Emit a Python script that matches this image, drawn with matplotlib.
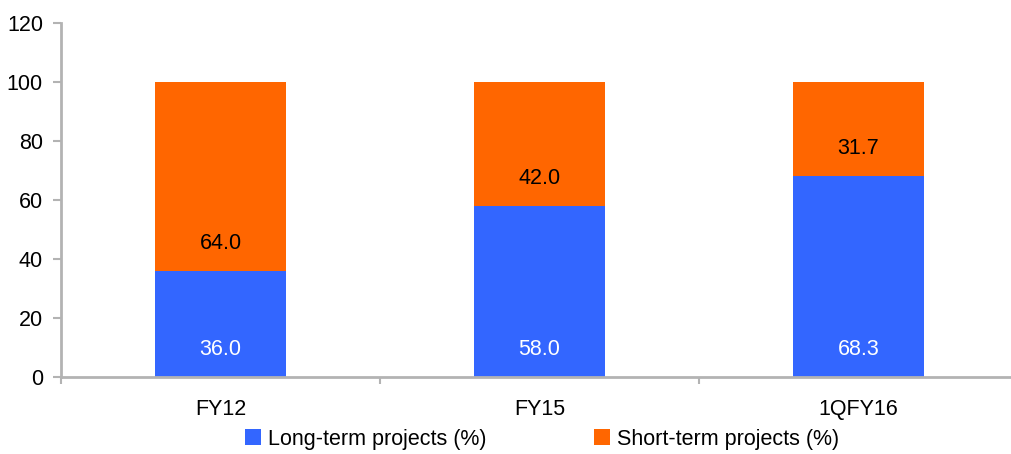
import numpy as np
import matplotlib
matplotlib.use("Agg")
import matplotlib.pyplot as plt

plt.rcParams['font.family'] = ['Liberation Sans', 'DejaVu Sans']

# data
categories = ["FY12", "FY15", "1QFY16"]
long_term = [36.0, 58.0, 68.3]
short_term = [64.0, 42.0, 31.7]

blue = "#3366ff"
orange = "#ff6600"
grey = "#b3b3b3"
fs = 15.5

fig = plt.figure(figsize=(10.11, 4.54), dpi=100)
W, H = 1011, 454
# axes spans px 61..1018 horizontally (runs past the right edge), 23..377 vertically
ax = fig.add_axes([61 / W, (H - 377) / H, (1018 - 61) / W, (377 - 23) / H])

x = np.arange(len(categories))
width = 0.41
b1 = ax.bar(x, long_term, width, color=blue, label="Long-term projects (%)")
b2 = ax.bar(x, short_term, width, bottom=long_term, color=orange,
            label="Short-term projects (%)")

# labels sit near the base of each segment
for i in range(len(categories)):
    ax.text(x[i], 9.3, f"{long_term[i]:.1f}", ha="center", va="center",
            color="white", fontsize=fs)
    ax.text(x[i], long_term[i] + 9.3, f"{short_term[i]:.1f}", ha="center",
            va="center", color="black", fontsize=fs)

ax.set_xlim(-0.5, 2.5)
ax.set_ylim(0, 120)
ax.set_yticks(range(0, 121, 20))
ax.set_xticks(x)
ax.set_xticklabels(categories)
ax.set_xticks([-0.5, 0.5, 1.5, 2.5], minor=True)
ax.tick_params(axis="x", which="major", length=0, pad=16, labelsize=fs)
ax.tick_params(axis="x", which="minor", length=5, width=1.5, color=grey)
ax.tick_params(axis="y", length=6, width=1.5, color=grey, pad=7, labelsize=fs)

for s in ["top", "right"]:
    ax.spines[s].set_visible(False)
for s in ["left", "bottom"]:
    ax.spines[s].set_color(grey)
    ax.spines[s].set_linewidth(2)

fig.legend(handles=[b1, b2], loc="center", bbox_to_anchor=(542 / W, 1 - 439 / H),
           ncol=2, frameon=False, fontsize=fs, handlelength=0.75, handleheight=0.75,
           handletextpad=0.3, columnspacing=5.0)

fig.savefig("out.png", dpi=100)
